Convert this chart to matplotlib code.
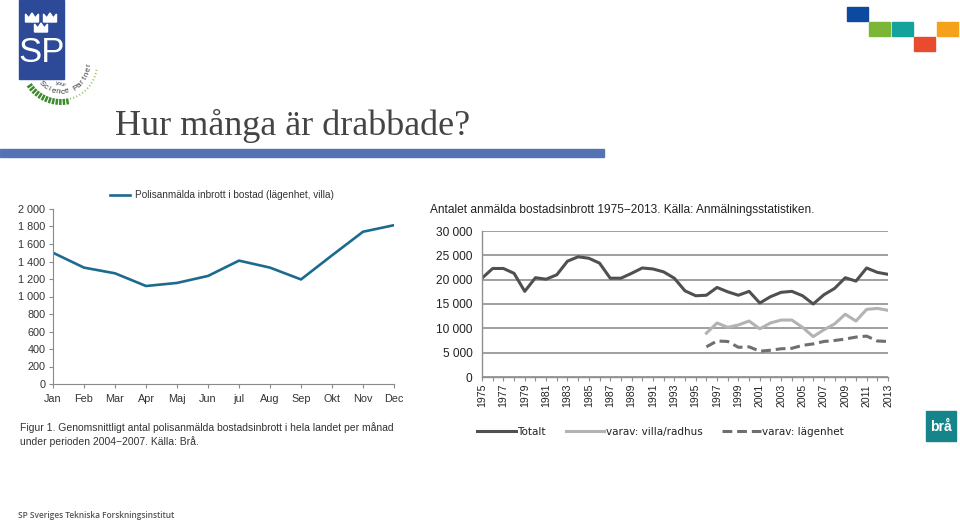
import numpy as np
import matplotlib
matplotlib.use("Agg")
import matplotlib.pyplot as plt
from matplotlib.patches import Rectangle, Polygon

# left chart: monthly average 2004-2007
months = ["Jan", "Feb", "Mar", "Apr", "Maj", "Jun", "jul", "Aug", "Sep", "Okt", "Nov", "Dec"]
monthly = [1500, 1330, 1265, 1120, 1155, 1235, 1410, 1330, 1195, 1470, 1740, 1815]

# right chart: yearly totals 1975-2013
years = list(range(1975, 2014))
totalt = [20300, 22300, 22300, 21300, 17600, 20400, 20100, 21000, 23800, 24700,
          24400, 23400, 20300, 20300, 21300, 22400, 22200, 21600, 20300, 17700,
          16700, 16800, 18400, 17500, 16800, 17600, 15200, 16500, 17400, 17600,
          16700, 15000, 16900, 18200, 20400, 19700, 22400, 21500, 21100]
sub_years = list(range(1996, 2014))
villa = [9000, 11100, 10200, 10700, 11500, 9900, 11100, 11700, 11700, 10200,
         8300, 9700, 10900, 12900, 11500, 13900, 14100, 13700]
lagenhet = [6200, 7400, 7300, 6100, 6200, 5300, 5500, 5800, 5900, 6500,
            6800, 7300, 7500, 7800, 8200, 8400, 7400, 7300]

W, H = 960, 521
fig = plt.figure(figsize=(W / 100, H / 100), dpi=100)
fig.patch.set_facecolor("white")


def rect(x0, y_top, x1, y_bot):
    return [x0 / W, (H - y_bot) / H, (x1 - x0) / W, (y_bot - y_top) / H]


# overlay in pixel coordinates for slide decoration
ov = fig.add_axes([0, 0, 1, 1])
ov.set_xlim(0, W)
ov.set_ylim(H, 0)
ov.axis("off")

# SP logo
ov.add_patch(Rectangle((19, 0), 45, 79, color="#2c4a98"))
def crown(cx, ty, w=13, h=8):
    pts = [(cx - w / 2, ty + h), (cx - w / 2, ty), (cx - w / 4, ty + h * 0.5),
           (cx, ty - 1), (cx + w / 4, ty + h * 0.5), (cx + w / 2, ty), (cx + w / 2, ty + h)]
    ov.add_patch(Polygon(pts, closed=True, color="white"))
crown(32, 14)
crown(50, 14)
crown(41, 24)
ov.text(42, 53, "SP", color="white", fontsize=25, family="Liberation Sans",
        ha="center", va="center")

# "your Science Partner" arc
cx, cy = 61, 64
word = "Science Partner"
angs = np.linspace(-135, -2, len(word))
for ch, a in zip(word, angs):
    r = 28
    ov.text(cx + r * np.cos(np.radians(a)), cy - r * np.sin(np.radians(a)), ch,
            rotation=a + 90, fontsize=5.8, color="#333333", ha="center", va="center",
            family="Liberation Sans")
ov.text(61, 84, "your", fontsize=3.6, color="#333333", ha="center", va="center",
        rotation=-15)
for a in np.linspace(-145, -10, 26):
    thick = a < -78
    r0, r1 = (35, 41) if thick else (35, 37)
    ca, sa = np.cos(np.radians(a)), np.sin(np.radians(a))
    ov.plot([cx + r0 * ca, cx + r1 * ca], [cy - r0 * sa, cy - r1 * sa],
            color="#3d8b2f" if thick else "#8cbf5a", lw=1.8 if thick else 0.7,
            solid_capstyle="butt")

# top right squares
for (x0, y0, c) in [(847, 7, "#0b4a9e"), (869, 22, "#7bb637"), (892, 22, "#14a39a"),
                    (914, 37, "#e84b2e"), (937, 22, "#f5a11b")]:
    ov.add_patch(Rectangle((x0, y0), 21, 14, color=c))

# title and bar
ov.text(115, 135, "Hur många är drabbade?", fontsize=26, family="Liberation Serif",
        color="#444444", va="baseline")
ov.add_patch(Rectangle((0, 149), 604, 8, color="#5572b4"))

# captions
ov.text(20, 428, "Figur 1. Genomsnittligt antal polisanmälda bostadsinbrott i hela landet per månad",
        fontsize=7.5, family="Liberation Sans", color="#333333", va="center")
ov.text(20, 442, "under perioden 2004\u22122007. Källa: Brå.",
        fontsize=7.5, family="Liberation Sans", color="#333333", va="center")
ov.text(430, 210, "Antalet anmälda bostadsinbrott 1975\u22122013. Källa: Anmälningsstatistiken.",
        fontsize=8.6, family="Liberation Sans", color="#222222", va="center")
ov.text(18, 515, "SP Sveriges Tekniska Forskningsinstitut", fontsize=6.0, family="Open Sans",
        fontweight="semibold", color="#555555", va="center")

# Brå logo
ov.add_patch(Rectangle((926, 411), 30, 30, color="#16858b"))
ov.text(941, 427, "brå", color="white", fontsize=10, fontweight="bold",
        family="Liberation Sans", ha="center", va="center")

# left chart
ax1 = fig.add_axes(rect(53, 209, 394, 384))
ax1.plot(range(len(months)), monthly, color="#1d6a8f", lw=1.9,
         label="Polisanmälda inbrott i bostad (lägenhet, villa)")
ax1.set_xlim(0, 11)
ax1.set_ylim(0, 2000)
ax1.set_xticks(range(len(months)))
ax1.set_xticklabels(months)
yt = list(range(0, 2001, 200))
ax1.set_yticks(yt)
ax1.set_yticklabels([f"{v:,}".replace(",", " ") for v in yt])
for s in ["top", "right"]:
    ax1.spines[s].set_visible(False)
for s in ["left", "bottom"]:
    ax1.spines[s].set_color("#8a8a8a")
    ax1.spines[s].set_linewidth(0.8)
ax1.tick_params(axis="both", colors="#8a8a8a", labelcolor="#333333", labelsize=7.8,
                length=3, width=0.8)
ax1.tick_params(axis="y", pad=2.5)
ax1.tick_params(axis="x", pad=4)
for t in ax1.get_xticklabels() + ax1.get_yticklabels():
    t.set_family("Liberation Sans")
leg1 = ax1.legend(loc="center", bbox_to_anchor=(0.496, 1.08), frameon=False,
                  prop={"family": "Liberation Sans", "size": 7.2},
                  handlelength=2.0, handletextpad=0.5)
for t in leg1.get_texts():
    t.set_color("#333333")

# right chart
ax2 = fig.add_axes(rect(482, 231, 888, 377))
ax2.plot(years, totalt, color="#505050", lw=2.2, label="Totalt")
ax2.plot(sub_years, villa, color="#b3b3b3", lw=2.2, label="varav: villa/radhus")
ax2.plot(sub_years, lagenhet, color="#6f6f6f", lw=2.2, dashes=(3.2, 1.6),
         label="varav: lägenhet")
ax2.set_xlim(1975, 2013)
ax2.set_ylim(0, 30000)
yt2 = list(range(0, 30001, 5000))
ax2.set_yticks(yt2)
ax2.set_yticklabels([f"{v:,}".replace(",", " ") for v in yt2])
ax2.set_xticks(years)
ax2.set_xticklabels([str(y) if y % 2 == 1 else "" for y in years], rotation=90)
ax2.grid(axis="y", color="#8f8f8f", lw=1.2)
ax2.set_axisbelow(True)
for s in ["top", "right"]:
    ax2.spines[s].set_visible(False)
for s in ["left", "bottom"]:
    ax2.spines[s].set_color("#8f8f8f")
    ax2.spines[s].set_linewidth(1.0)
ax2.tick_params(axis="y", length=0, pad=7, labelsize=8.6, labelcolor="#222222")
ax2.tick_params(axis="x", length=3, width=0.8, colors="#8f8f8f", pad=2,
                labelsize=7.6, labelcolor="#222222")
for t in ax2.get_xticklabels() + ax2.get_yticklabels():
    t.set_family("Liberation Sans")
leg2 = ax2.legend(loc="center", bbox_to_anchor=(0.44, -0.377), ncol=3, frameon=False,
                  prop={"family": "DejaVu Sans", "size": 7.5},
                  handlelength=3.7, handletextpad=0.15, columnspacing=1.9)
for t in leg2.get_texts():
    t.set_color("#222222")

fig.savefig("out.png", dpi=100, facecolor="white")
